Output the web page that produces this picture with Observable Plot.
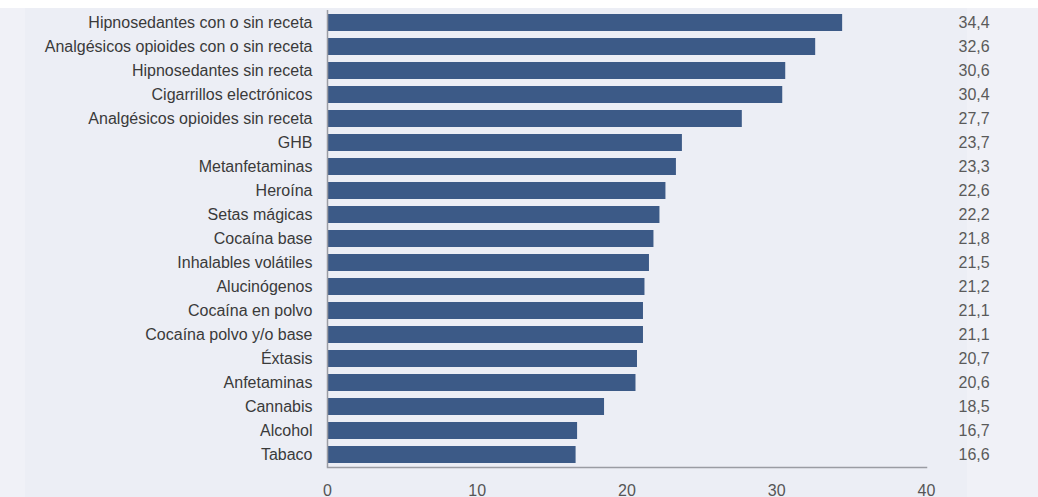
<!DOCTYPE html>
<html>
<head>
<meta charset="utf-8">
<script src="https://cdn.jsdelivr.net/npm/d3@7"></script>
<script src="https://cdn.jsdelivr.net/npm/@observablehq/plot@0.6"></script>
<style>
  html, body { margin: 0; padding: 0; background: #ffffff; }
  #chart {
    width: 1038px;
    height: 497px;
    background:
      linear-gradient(to bottom, #ffffff 0 8px, transparent 8px),
      linear-gradient(to right, #f0f1f7 0 25px, #eceef5 25px 967px, #f0f1f7 967px);
  }
  #chart svg { display: block; }
</style>
</head>
<body>
<div id="chart"></div>
<script>
const categories = [
  "Hipnosedantes con o sin receta",
  "Analgésicos opioides con o sin receta",
  "Hipnosedantes sin receta",
  "Cigarrillos electrónicos",
  "Analgésicos opioides sin receta",
  "GHB",
  "Metanfetaminas",
  "Heroína",
  "Setas mágicas",
  "Cocaína base",
  "Inhalables volátiles",
  "Alucinógenos",
  "Cocaína en polvo",
  "Cocaína polvo y/o base",
  "Éxtasis",
  "Anfetaminas",
  "Cannabis",
  "Alcohol",
  "Tabaco"
];
const values = [34.4, 32.6, 30.6, 30.4, 27.7, 23.7, 23.3, 22.6, 22.2, 21.8, 21.5, 21.2, 21.1, 21.1, 20.7, 20.6, 18.5, 16.7, 16.6];
const xTicks = [0, 10, 20, 30, 40];

const data = categories.map((c, i) => ({category: c, value: values[i]}));
const fmt = v => v.toFixed(1).replace(".", ",");

const chart = Plot.plot({
  width: 1038,
  height: 497,
  marginLeft: 327,
  marginRight: 112,
  marginTop: 10,
  marginBottom: 30,
  style: {fontFamily: "'Liberation Sans', Arial, Helvetica, sans-serif", fontSize: "16px", background: "transparent", overflow: "visible"},
  x: {domain: [0, 40], ticks: xTicks},
  y: {domain: categories, paddingInner: 0.3, paddingOuter: 0.1},
  marks: [
    Plot.barX(data, {x: "value", y: "category", fill: "#3c5a87"}),
    Plot.ruleX([0], {stroke: "#9a9ca3", strokeWidth: 1.5}),
    Plot.frame({anchor: "bottom", stroke: "#9a9ca3", strokeWidth: 1.5}),
    Plot.axisY({tickSize: 0, tickPadding: 15, label: null, color: "#3a3a3a", fontSize: 16}),
    Plot.axisX({ticks: xTicks, tickSize: 0, tickPadding: 17, label: null, color: "#555", fontSize: 16}),
    Plot.text(data, {y: "category", text: d => fmt(d.value), frameAnchor: "right", dx: 32, textAnchor: "start", fill: "#5a5a5a", fontSize: 16})
  ]
});
document.getElementById("chart").appendChild(chart);
</script>
</body>
</html>
